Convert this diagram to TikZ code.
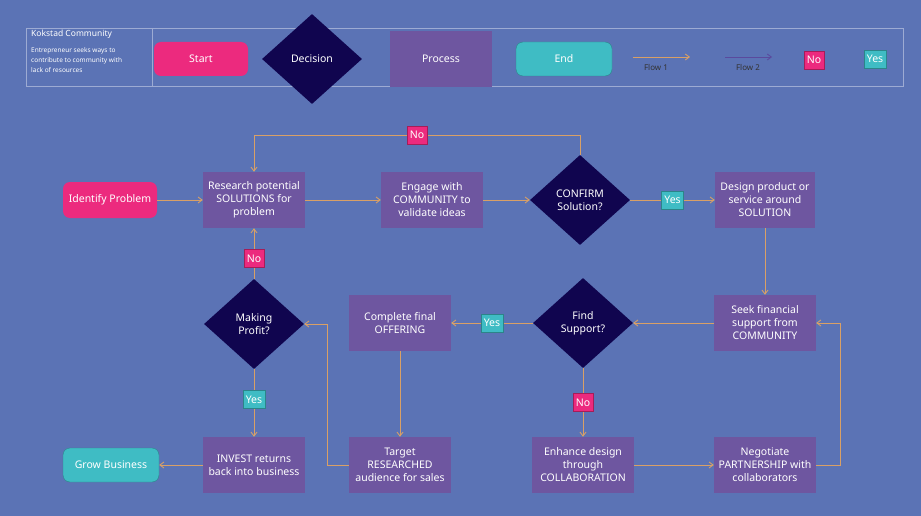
\documentclass[tikz,border=0pt]{standalone}
\usepackage{fontspec}
\setmainfont{Noto Sans}
\usetikzlibrary{arrows.meta,shapes.geometric}
\definecolor{bgblue}{HTML}{5B73B5}
\definecolor{pinkc}{HTML}{EC2A7E}
\definecolor{navyc}{HTML}{10054F}
\definecolor{procc}{HTML}{6E56A0}
\definecolor{tealc}{HTML}{3FBCC4}
\definecolor{flowc}{HTML}{D9A066}
\definecolor{flowb}{HTML}{5A4A9E}
\tikzset{
  every node/.style={font=\fontsize{10.5}{13}\selectfont, text=white, align=center},
  start/.style={rectangle, rounded corners=7pt, fill=pinkc, minimum width=94pt, minimum height=36pt},
  finish/.style={rectangle, rounded corners=7pt, fill=tealc, draw=tealc!70!black, minimum width=96pt, minimum height=34pt},
  proc/.style={rectangle, fill=procc, minimum width=102pt, minimum height=56pt, inner sep=2pt},
  decide/.style={diamond, fill=navyc, minimum width=100pt, minimum height=90pt, inner sep=0pt, aspect=1.1},
  nolbl/.style={fill=pinkc, draw=pinkc!70!black, minimum width=20pt, minimum height=18pt, inner sep=2pt},
  yeslbl/.style={fill=tealc, draw=tealc!70!black, minimum width=22pt, minimum height=18pt, inner sep=2pt},
  flow/.style={draw=flowc, line width=0.9pt, -{Straight Barb[length=4pt,width=6pt]}},
}
\begin{document}
\begin{tikzpicture}[x=1pt,y=-1pt]
      % Background
      \fill[bgblue] (0,0) rectangle (921,516);
      \useasboundingbox (0,0) rectangle (921,516);

      % Legend
      \draw[white!40!bgblue, line width=0.8pt] (26,28) rectangle (903,86);
      \draw[white!40!bgblue, line width=0.8pt] (152,28) -- (152,86);
      \node[anchor=north west, font=\fontsize{8.5}{10}\selectfont\bfseries, inner sep=0pt] (ttl) at (31,30) {Kokstad Community};
      \node[anchor=north west, align=left, font=\fontsize{6.5}{10}\selectfont, inner sep=0pt] (desc) at (31,47) {Entrepreneur seeks ways to\\contribute to community with\\lack of resources};
      \node[start, minimum width=94pt, minimum height=34pt] (lstart) at (201,59) {Start};
      \node[decide] (ldec) at (312,59) {Decision};
      \node[proc] (lproc) at (441,59) {Process};
      \node[finish] (lend) at (564,59) {End};
      \coordinate (f1a) at (633,57);
      \coordinate (f1b) at (690,57);
      \draw[flow] (f1a) -- (f1b);
      \node[font=\fontsize{8}{10}\selectfont, text=black!80] (f1) at (656,68) {Flow 1};
      \coordinate (f2a) at (725,57);
      \coordinate (f2b) at (772,57);
      \draw[flow, draw=flowb] (f2a) -- (f2b);
      \node[font=\fontsize{8}{10}\selectfont, text=black!80] (f2) at (748,68) {Flow 2};
      \node[nolbl] (lno) at (814,60) {No};
      \node[yeslbl] (lyes) at (875,59) {Yes};

      % Top row
      \node[start] (ident) at (110,200) {Identify Problem};
      \node[proc] (research) at (254,200) {Research potential\\SOLUTIONS for\\problem};
      \node[proc] (engage) at (432,200) {Engage with\\COMMUNITY to\\validate ideas};
      \node[decide] (confirm) at (580,200) {CONFIRM\\Solution?};
      \node[proc, minimum width=100pt] (design) at (765,200) {Design product or\\service around\\SOLUTION};

      % Middle row
      \node[proc] (seek) at (765,323) {Seek financial\\support from\\COMMUNITY};
      \node[decide] (support) at (583,323) {Find\\Support?};
      \node[proc] (complete) at (400,323) {Complete final\\OFFERING};
      \node[decide] (profit) at (254,324) {Making\\Profit?};

      % Bottom row
      \node[finish] (grow) at (111,465) {Grow Business};
      \node[proc] (invest) at (254,465) {INVEST returns\\back into business};
      \node[proc] (target) at (400,465) {Target\\RESEARCHED\\audience for sales};
      \node[proc] (enhance) at (583,465) {Enhance design\\through\\COLLABORATION};
      \node[proc] (negot) at (765,465) {Negotiate\\PARTNERSHIP with\\collaborators};

      % Connectors
      \draw[flow] (ident) -- (research);
      \draw[flow] (research) -- (engage);
      \draw[flow] (engage) -- (confirm);
      \draw[flow] (confirm) -- node[yeslbl] {Yes} (design);
      \draw[flow] (confirm.north) |- (254,135) node[nolbl, pos=0.75] {No} -- (research.north);
      \draw[flow] (design) -- (seek);
      \draw[flow] (seek) -- (support);
      \draw[flow] (support) -- node[yeslbl] {Yes} (complete);
      \draw[flow] (support) -- node[nolbl] {No} (enhance);
      \draw[flow] (complete) -- (target);
      \draw[flow] (enhance) -- (negot);
      \draw[flow] (negot.east) -| (840,323) -- (seek.east);
      \draw[flow] (target.west) -| (327,324) -- (profit.east);
      \draw[flow] (profit) -- node[nolbl, pos=0.4] {No} (research);
      \draw[flow] (profit) -- node[yeslbl, pos=0.45] {Yes} (invest);
      \draw[flow] (invest) -- (grow);
\end{tikzpicture}
\end{document}
